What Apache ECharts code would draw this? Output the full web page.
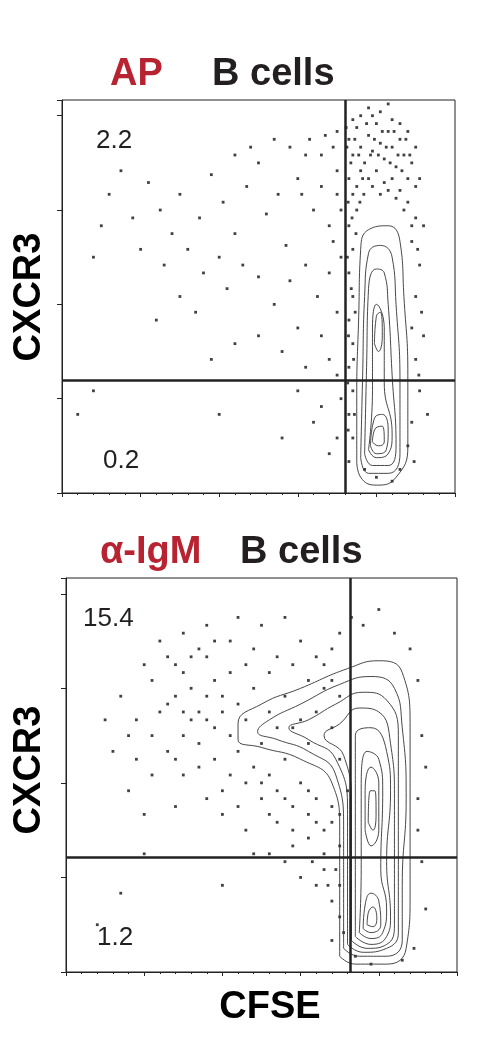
<!DOCTYPE html>
<html><head><meta charset="utf-8">
<script src="https://cdn.jsdelivr.net/npm/echarts@6/dist/echarts.min.js"></script>
<style>html,body{margin:0;padding:0;background:#fff}#c{width:482px;height:1045px}</style>
</head><body><div id="c"></div>
<script>
// Panel titles and quadrant percentages
const panelStim = ['AP', 'α-IgM'];
const panelCells = ['B cells', 'B cells'];
const upperLeftPct = ['2.2', '15.4'];
const lowerLeftPct = ['0.2', '1.2'];
const gateX = [72, 72.6];
const gateY = [28.8, 29.2];

// Scattered events (CFSE, CXCR3) in axis units 0-100
const apDots = [[22,79],[25,72],[30,76],[35,70],[38,81],[41,74],[44,66],[47,78],[50,84],[52,71],[55,76],[57,63],[60,80],[62,86],[64,72],[66,78],[68,68],[70,82],[69,88],[67,91],[63,90],[58,88],[54,90],[48,88],[44,86],[40,60],[36,56],[32,62],[28,66],[26,58],[30,50],[34,46],[42,52],[46,58],[50,55],[54,48],[58,54],[62,58],[65,50],[68,56],[70,46],[66,40],[60,42],[56,36],[50,40],[44,38],[38,34],[24,44],[20,62],[18,70],[15,82],[12,76],[10,68],[8,60],[68,34],[62,32],[70,30],[71,24],[66,22],[64,18],[70,14],[68,10],[60,26],[8,26],[4,20],[40,20],[56,14],
[73,90],[74,86],[75,93],[76,88],[77,84],[78,91],[79,87],[80,94],[81,89],[82,85],[83,92],[84,88],[85,83],[86,90],[87,86],[88,80],[89,84],[90,78],[73,80],[74,76],[75,72],[73,68],[74,62],[73,56],[74,50],[73,44],[74,38],[73,32],[74,26],[73,20],[74,14],[73,8],[75,78],[76,82],[78,80],[80,82],[82,79],[84,80],[86,77],[88,74],[90,70],[89,64],[91,58],[90,50],[89,42],[90,34],[91,26],[89,18],[88,12],[86,6],[80,4],[77,6],[92,40],[93,20],[76,96],[81,97],[84,95],[78,98],[83,99],
[72.5,88],[73.5,84],[74.5,90],[75.5,86],[76.5,80],[77.5,94],[78.5,86],[79.5,90],[80.5,86],[81.5,92],[82.5,88],[83.5,84],[84.5,92],[85.5,86],[86.5,82],[87.5,90],[88.5,86],[72.8,74],[73.8,70],[74.8,66],[75.8,74],[76.8,76],[79,78],[81,76],[83,77],[85,75],[87,72],[89,68],[72.6,60],[73.6,52],[74.6,46],[72.9,40],[74.2,34],[72.7,28],[74.4,20],[72.8,16],[90.5,62],[91.5,46],[90.8,30],[89.6,8],[84,3],[70,76],[71,72],[69,64],[71,60],[70,92],[66,86],[61,76],[72.3,93],[74,95],[79,96],[86,94],[88,92],[90,88],[91,80],[92,68]];
const igmDots = [[14,70],[18,64],[22,74],[26,68],[28,78],[30,60],[32,72],[34,66],[36,80],[38,62],[40,70],[42,76],[44,56],[46,64],[48,52],[50,58],[52,50],[54,46],[56,54],[58,42],[60,48],[62,40],[64,44],[66,36],[68,38],[70,32],[66,30],[62,34],[58,36],[54,38],[50,44],[46,48],[42,50],[38,54],[34,58],[30,50],[26,56],[22,60],[18,54],[16,46],[20,40],[24,84],[30,86],[36,88],[42,84],[48,82],[54,80],[60,84],[64,80],[68,82],[70,86],[56,90],[50,88],[44,90],[12,56],[10,64],[40,40],[46,36],[52,30],[60,24],[64,22],[68,18],[70,14],[66,26],[56,28],[48,30],[36,44],[28,42],[20,30],[8,12],[14,20],[40,22],[30,76],[34,82],[38,74],[44,68],[48,72],[52,66],[56,70],[58,62],[62,58],[64,66],[66,72],[68,62],[70,54],[70,70],[72,46],[73,90],[76,88],[80,92],[84,86],[88,82],[90,74],[91,60],[90,44],[91,28],[92,16],[89,6],[74,4],[78,2],[86,3],[90,36],[92,52],
[24,66],[28,70],[32,64],[36,70],[40,66],[20,78],[26,80],[32,80],[38,84],[46,78],[52,76],[58,78],[62,74],[66,78],[68,74],[60,64],[54,62],[50,48],[56,44],[62,46],[64,38],[68,42],[70,40],[69,26],[67,22],[63,28],[70,22],[71,10],[68,8],[16,60],[22,50],[28,54],[34,52],[40,46],[44,42],[52,40],[58,32],[42,60],[36,64],[30,66]];

// Hand-traced density contours (CFSE, CXCR3)
const apContours = [
 [[75,8],[76,4],[80,2],[85,4],[88,12],[88,30],[87,50],[86,64],[83,68],[78,67],[76,62],[75.5,45],[75,25],[75,8]],
 [[76,9],[78,5],[83,5],[86,10],[86,28],[85,48],[84,60],[81,63],[78,61],[77,50],[76.5,30],[76,9]],
 [[77,10],[79,7],[83,7],[85,12],[84,30],[83,48],[82,56],[80,57],[78,52],[77.5,32],[77,10]],
 [[78,11],[80,9],[83,10],[84,15],[82,28],[82,42],[80,48],[79,42],[79,26],[78,11]],
 [[78.5,12],[80,10],[82.5,11],[83,16],[81.5,20],[79.5,19],[78.5,12]],
 [[79,13],[80.5,12],[82,13],[81.5,17],[79.8,16.5],[79,13]],
 [[79.5,38],[80.5,36],[81.5,40],[81,46],[80,45],[79.5,38]]
];
const igmContours = [
 [[70,4],[74,2],[82,2],[87,6],[88,20],[88,40],[88,62],[86,76],[80,79],[72,77],[60,72],[50,68],[44,63],[44,59],[50,57],[60,54],[68,48],[70,36],[70,18],[70,4]],
 [[71,6],[75,4],[82,4],[86,8],[86,22],[87,44],[86,62],[84,72],[78,75],[70,73],[60,68],[52,64],[49,61],[54,59],[62,56],[69,50],[71,36],[71,20],[71,6]],
 [[72,7],[76,5],[82,6],[85,10],[85,24],[85,44],[85,60],[82,69],[76,71],[69,68],[62,64],[57,62],[62,59],[69,54],[72,40],[72,20],[72,7]],
 [[73,8],[77,6],[82,7],[84,12],[84,26],[84,44],[83,58],[80,66],[75,67],[70,63],[66,60],[71,55],[73,42],[73,20],[73,8]],
 [[74,9],[78,7],[82,9],[83,14],[82,28],[83,46],[82,56],[78,62],[74,60],[74,44],[74,24],[74,9]],
 [[75,10],[78,8.5],[81,10],[82,16],[80.5,26],[81,46],[80,54],[77,56],[75.5,46],[75.5,26],[75,10]],
 [[76,11],[78,10],[80.5,12],[80,18],[78,20],[76.5,17],[76,11]],
 [[77,12],[78.5,11.5],[79.5,13.5],[78.5,16.5],[77.3,15],[77,12]],
 [[76.5,36],[78,32],[80,36],[80,48],[78,52],[76.5,46],[76.5,36]],
 [[77.3,38],[78.5,36],[79.3,40],[79,46],[77.8,46],[77.3,38]]
];

const chart = echarts.init(document.getElementById('c'));
const grids = [
  {left: 62, top: 100, width: 393, height: 393},
  {left: 66, top: 578, width: 391, height: 394}
];
const dots = [apDots, igmDots];
const contours = [apContours, igmContours];
const series = [];
[0,1].forEach(i => {
  series.push({type:'scatter', xAxisIndex:i, yAxisIndex:i, data:dots[i], symbol:'rect', symbolSize:2.8,
    itemStyle:{color:'#111'}, silent:true, z:2});
  contours[i].forEach(c => series.push({type:'line', xAxisIndex:i, yAxisIndex:i, data:c, smooth:0.5,
    symbol:'none', lineStyle:{color:'#333', width:0.9}, silent:true, z:3}));
  series.push({type:'line', xAxisIndex:i, yAxisIndex:i, data:[], z:5,
    markLine:{symbol:'none', silent:true, label:{show:false}, lineStyle:{color:'#222', width:2.5, type:'solid'},
      data:[{xAxis:gateX[i]},{yAxis:gateY[i]}]}});
});
const axisCommon = {min:0, max:100, splitLine:{show:false}, axisLabel:{show:false},
  axisLine:{show:true, lineStyle:{color:'#222', width:1}}};
const F = '"Liberation Sans", Arial';
chart.setOption({
  animation:false,
  grid: grids.map(g => Object.assign({show:true, borderColor:'#222', borderWidth:1}, g)),
  xAxis: [0,1].map(i => Object.assign({type:'value', gridIndex:i, interval:20,
    axisTick:{show:true, length:4, lineStyle:{color:'#222'}}, minorTick:{show:true, splitNumber:5, length:2}}, axisCommon)),
  yAxis: [0,1].map(i => Object.assign({type:'value', gridIndex:i, interval:24,
    axisTick:{show:true, length:5, lineStyle:{color:'#222'}}}, axisCommon)),
  series: series,
  graphic: [
    {type:'text', left:110, top:56, style:{text:panelStim[0], font:'bold 38px '+F, fill:'#b82331'}},
    {type:'text', left:212, top:56, style:{text:panelCells[0], font:'bold 38px '+F, fill:'#231f20'}},
    {type:'text', left:100, top:534, style:{text:panelStim[1], font:'bold 38px '+F, fill:'#b82331'}},
    {type:'text', left:240, top:534, style:{text:panelCells[1], font:'bold 38px '+F, fill:'#231f20'}},
    {type:'text', left:96, top:128, style:{text:upperLeftPct[0], font:'26px '+F, fill:'#231f20'}},
    {type:'text', left:103, top:448, style:{text:lowerLeftPct[0], font:'26px '+F, fill:'#231f20'}},
    {type:'text', left:83, top:606, style:{text:upperLeftPct[1], font:'26px '+F, fill:'#231f20'}},
    {type:'text', left:97, top:925, style:{text:lowerLeftPct[1], font:'26px '+F, fill:'#231f20'}},
    {type:'text', x:30, y:297, rotation:Math.PI/2, style:{text:'CXCR3', font:'bold 38px '+F, fill:'#000', align:'center', verticalAlign:'middle'}},
    {type:'text', x:30, y:770, rotation:Math.PI/2, style:{text:'CXCR3', font:'bold 38px '+F, fill:'#000', align:'center', verticalAlign:'middle'}},
    {type:'text', x:270, y:1008, style:{text:'CFSE', font:'bold 38px '+F, fill:'#000', align:'center', verticalAlign:'middle'}}
  ]
});
</script></body></html>
